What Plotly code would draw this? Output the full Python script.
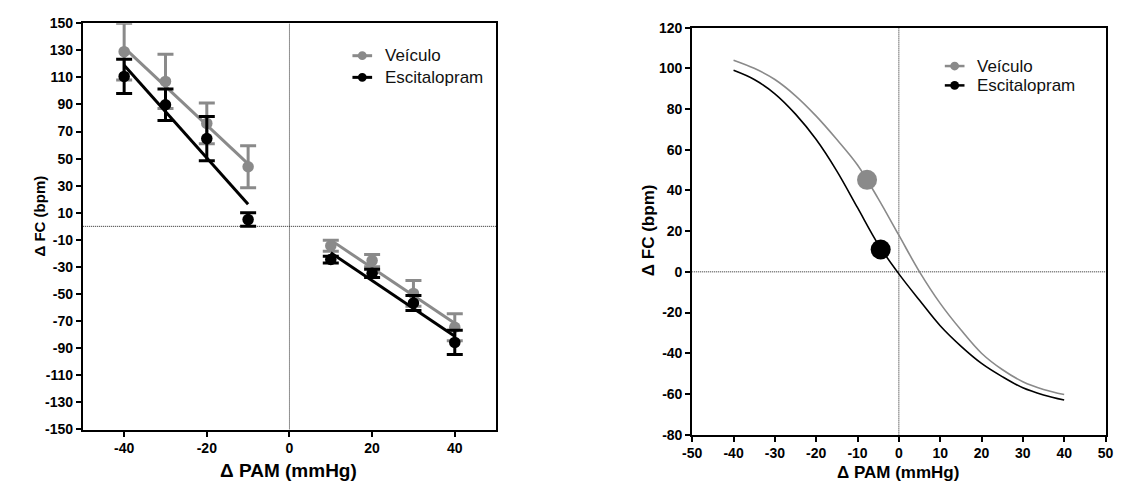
import numpy as np
import plotly.graph_objects as go

W, H = 1126, 491

# ---------------- data: left panel (mean ± SEM) ----------------
pam_neg = [-40, -30, -20, -10]
pam_pos = [10, 20, 30, 40]

veic_neg = [129, 107, 76, 44]
veic_neg_err = [21, 20, 15, 15.5]
esc_neg = [110.7, 89.8, 64.8, 5]
esc_neg_err = [12.7, 11.7, 16.3, 5]

veic_pos = [-14.3, -25.3, -49.5, -74.5]
veic_pos_err = [4, 4.5, 9.5, 10]
esc_pos = [-24.5, -34.7, -56.6, -85.7]
esc_pos_err = [2.5, 3, 5.5, 9]

left_xticks = [-40, -20, 0, 20, 40]
left_yticks = list(range(-150, 151, 20))

# ---------------- data: right panel (sigmoid curves) ----------------
curve_x = [-40, -35, -30, -25, -20, -15, -10, -5, 0, 5, 10, 15, 20, 25, 30, 35, 40]
veic_curve = [104, 100, 94.5, 86.5, 76.5, 65, 52.5, 36, 18, 0, -15.5, -28.5, -40, -48, -54, -57.8, -60.3]
esc_curve = [99, 94.5, 87.5, 77.5, 65, 49.5, 31.5, 13.5, -1, -14, -26.5, -36.5, -45, -51.5, -57, -60.5, -63]

bp50_x = [-7.7, -4.4]     # midpoint markers (Veículo, Escitalopram)
bp50_y = [45.2, 11]

right_xticks = list(range(-50, 51, 10))
right_yticks = list(range(-80, 121, 20))

names = ["Veículo", "Escitalopram"]
GRAY = "#8a8a8a"
BLACK = "#000000"
FONT = "Arial, Liberation Sans, sans-serif"

fig = go.Figure()

def fitline(xs, ys):
    k, b = np.polyfit(xs, ys, 1)
    return [xs[0], xs[-1]], [k * xs[0] + b, k * xs[-1] + b]

# left panel traces
for xs, ys, es, col in [
    (pam_neg, veic_neg, veic_neg_err, GRAY), (pam_pos, veic_pos, veic_pos_err, GRAY),
    (pam_neg, esc_neg, esc_neg_err, BLACK), (pam_pos, esc_pos, esc_pos_err, BLACK),
]:
    fx, fy = fitline(xs, ys)
    fig.add_trace(go.Scatter(x=fx, y=fy, mode="lines", line=dict(color=col, width=3),
                             xaxis="x", yaxis="y", showlegend=False, hoverinfo="skip"))
    fig.add_trace(go.Scatter(x=xs, y=ys, mode="markers",
                             marker=dict(color=col, size=11.5),
                             error_y=dict(type="data", array=es, color=col, thickness=3, width=8),
                             xaxis="x", yaxis="y", showlegend=False))

# right panel traces
fig.add_trace(go.Scatter(x=curve_x, y=veic_curve, mode="lines",
                         line=dict(color=GRAY, width=1.6, shape="spline", smoothing=1.0),
                         xaxis="x2", yaxis="y2", showlegend=False))
fig.add_trace(go.Scatter(x=curve_x, y=esc_curve, mode="lines",
                         line=dict(color=BLACK, width=1.6, shape="spline", smoothing=1.0),
                         xaxis="x2", yaxis="y2", showlegend=False))
fig.add_trace(go.Scatter(x=[bp50_x[0]], y=[bp50_y[0]], mode="markers", marker=dict(color=GRAY, size=20),
                         xaxis="x2", yaxis="y2", showlegend=False))
fig.add_trace(go.Scatter(x=[bp50_x[1]], y=[bp50_y[1]], mode="markers", marker=dict(color=BLACK, size=20),
                         xaxis="x2", yaxis="y2", showlegend=False))

def px(xp):
    return xp / W

def py(yp):
    return 1 - yp / H

def lab(v):
    return str(v).replace("−", "-")

axis_common = dict(showgrid=False, zeroline=False, showline=True, linecolor="black", linewidth=2,
                   mirror=True, ticks="outside", ticklen=5, tickwidth=1.5, tickcolor="black",
                   tickfont=dict(family=FONT, size=14, color="black", weight="bold"))

fig.update_layout(
    width=W, height=H, margin=dict(l=0, r=0, t=0, b=0),
    plot_bgcolor="white", paper_bgcolor="white",
    xaxis=dict(domain=[px(74), px(494)], range=[-50, 50], tickvals=left_xticks,
               ticktext=[lab(v) for v in left_xticks], anchor="y", **axis_common),
    yaxis=dict(domain=[py(435.7), py(15.7)], range=[-150, 150], tickvals=left_yticks,
               ticktext=[lab(v) for v in left_yticks], anchor="x", **axis_common),
    xaxis2=dict(domain=[px(693.3), px(1113.3)], range=[-50, 50], tickvals=right_xticks,
                ticktext=[lab(v) for v in right_xticks], anchor="y2", **axis_common),
    yaxis2=dict(domain=[py(441), py(20.3)], range=[-80, 120], tickvals=right_yticks,
                ticktext=[lab(v) for v in right_yticks], anchor="x2", **axis_common),
)

shapes = []
# dotted reference lines
for xr, yr, (y0, y1) in [("x", "y", (-150, 150)), ("x2", "y2", (-80, 120))]:
    shapes.append(dict(type="line", xref=xr, yref=yr, x0=0, x1=0, y0=y0, y1=y1,
                       line=dict(color="#222", width=1, dash="1px,1px"), layer="below"))
    shapes.append(dict(type="line", xref=xr, yref=yr, x0=-50, x1=50, y0=0, y1=0,
                       line=dict(color="#222", width=1, dash="1px,1px"), layer="below"))

annotations = []
# manual legends
def legend(cx, ys, tx, lw, r):
    for yy, col, nm in zip(ys, [GRAY, BLACK], names):
        shapes.append(dict(type="line", xref="paper", yref="paper", x0=px(cx - 10), x1=px(cx + 10),
                           y0=py(yy), y1=py(yy), line=dict(color=col, width=lw)))
        shapes.append(dict(type="circle", xref="paper", yref="paper", x0=px(cx - r), x1=px(cx + r),
                           y0=py(yy + r), y1=py(yy - r), fillcolor=col, line=dict(color=col, width=0)))
        annotations.append(dict(text=nm, xref="paper", yref="paper", x=px(tx), y=py(yy), xanchor="left",
                                yanchor="middle", showarrow=False,
                                font=dict(family=FONT, size=17, color="#111")))

legend(358, [49.3, 71.7], 379, 3, 4.5)
legend(960, [60, 80], 981, 2.5, 4.5)

# axis titles
annotations += [
    dict(text="Δ PAM (mmHg)", xref="paper", yref="paper", x=px(283), y=py(478), showarrow=False,
         font=dict(family=FONT, size=19, color="black", weight="bold"), xanchor="center", yanchor="middle"),
    dict(text="Δ PAM (mmHg)", xref="paper", yref="paper", x=px(902), y=py(480), showarrow=False,
         font=dict(family=FONT, size=17, color="black", weight="bold"), xanchor="center", yanchor="middle"),
    dict(text="Δ FC (bpm)", xref="paper", yref="paper", x=px(30), y=py(215), showarrow=False, textangle=-90,
         font=dict(family=FONT, size=15, color="black", weight="bold"), xanchor="center", yanchor="middle"),
    dict(text="Δ FC (bpm)", xref="paper", yref="paper", x=px(649), y=py(230), showarrow=False, textangle=-90,
         font=dict(family=FONT, size=17, color="black", weight="bold"), xanchor="center", yanchor="middle"),
]

fig.update_layout(shapes=shapes, annotations=annotations)
fig.write_html("out.html")
